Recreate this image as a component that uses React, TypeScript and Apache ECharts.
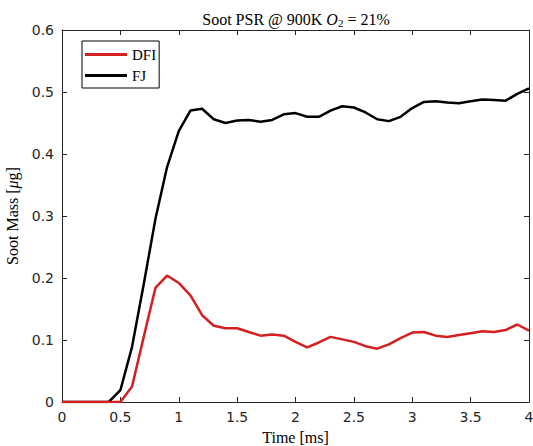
import React, { useEffect, useRef } from "react";
import * as echarts from "echarts";

const times = [0, 0.1, 0.2, 0.3, 0.4, 0.5, 0.6, 0.7, 0.8, 0.9, 1.0, 1.1, 1.2, 1.3, 1.4, 1.5, 1.6, 1.7, 1.8, 1.9, 2.0, 2.1, 2.2, 2.3, 2.4, 2.5, 2.6, 2.7, 2.8, 2.9, 3.0, 3.1, 3.2, 3.3, 3.4, 3.5, 3.6, 3.7, 3.8, 3.9, 4.0];
const dfi = [0, 0, 0, 0, 0, 0, 0.025, 0.105, 0.184, 0.204, 0.192, 0.172, 0.140, 0.123, 0.119, 0.119, 0.113, 0.107, 0.109, 0.107, 0.097, 0.088, 0.096, 0.105, 0.101, 0.097, 0.090, 0.086, 0.093, 0.103, 0.112, 0.113, 0.107, 0.105, 0.108, 0.111, 0.114, 0.113, 0.116, 0.125, 0.115];
const fj = [0, 0, 0, 0, 0, 0.019, 0.089, 0.19, 0.295, 0.379, 0.437, 0.470, 0.473, 0.456, 0.450, 0.454, 0.455, 0.452, 0.455, 0.464, 0.466, 0.460, 0.460, 0.470, 0.477, 0.475, 0.467, 0.456, 0.453, 0.460, 0.474, 0.484, 0.485, 0.483, 0.482, 0.485, 0.488, 0.487, 0.486, 0.497, 0.506];

const AX = "#262626";
const SERIF = "'Liberation Serif', 'DejaVu Serif', serif";
const SANS = "'DejaVu Sans', sans-serif";

export default function App() {
  const ref = useRef<HTMLDivElement>(null);
  useEffect(() => {
    const chart = echarts.init(ref.current!, null, { renderer: "svg" });
    const xCommon = {
      type: "value" as const,
      min: 0,
      max: 4,
      interval: 0.5,
      splitLine: { show: false },
      axisLine: { show: true, onZero: false, lineStyle: { color: AX, width: 1 } },
      axisTick: { show: true, inside: true, length: 5, lineStyle: { color: AX } },
    };
    const yCommon = {
      type: "value" as const,
      min: 0,
      max: 0.6,
      interval: 0.1,
      splitLine: { show: false },
      axisLine: { show: true, onZero: false, lineStyle: { color: AX, width: 1 } },
      axisTick: { show: true, inside: true, length: 5, lineStyle: { color: AX } },
    };
    chart.setOption({
      animation: false,
      backgroundColor: "#ffffff",
      title: {
        text: "Soot PSR @ 900K {i|O}{sub|2} = 21%",
        left: 291,
        top: 5,
        textAlign: "center",
        textStyle: {
          fontFamily: SERIF,
          fontSize: 16,
          fontWeight: "normal",
          color: "#000",
          rich: {
            i: { fontFamily: SERIF, fontSize: 16, fontStyle: "italic", color: "#000" },
            sub: { fontFamily: SERIF, fontSize: 11, color: "#000", verticalAlign: "bottom", padding: [7, 0, 0, 0] },
          },
        },
      },
      grid: { left: 62, right: 4, top: 30, bottom: 44, containLabel: false, outerBoundsMode: "none" },
      legend: {
        orient: "vertical",
        left: 82,
        top: 41,
        padding: [6, 3, 5, 3],
        itemGap: 6,
        itemWidth: 42,
        itemHeight: 3,
        icon: "rect",
        borderColor: "#000",
        borderWidth: 1,
        backgroundColor: "#fff",
        textStyle: { fontFamily: SERIF, fontSize: 15, color: "#000", lineHeight: 14 },
        data: ["DFI", "FJ"],
      },
      xAxis: [
        {
          ...xCommon,
          position: "bottom",
          name: "Time [ms]",
          nameLocation: "middle",
          nameGap: 27,
          nameTextStyle: { fontFamily: SERIF, fontSize: 16, color: "#000" },
          axisLabel: { show: true, fontFamily: SANS, fontSize: 14, color: AX, margin: 8 },
        },
        { ...xCommon, position: "top", axisLabel: { show: false } },
      ],
      yAxis: [
        {
          ...yCommon,
          position: "left",
          name: "Soot Mass [{i|μ}g]",
          nameLocation: "middle",
          nameGap: 34,
          nameTextStyle: {
            fontFamily: SERIF,
            fontSize: 16,
            color: "#000",
            rich: { i: { fontFamily: SERIF, fontSize: 16, fontStyle: "italic", color: "#000" } },
          },
          axisLabel: { show: true, fontFamily: SANS, fontSize: 14, color: AX, margin: 8 },
        },
        { ...yCommon, position: "right", axisLabel: { show: false } },
      ],
      series: [
        {
          name: "DFI",
          type: "line",
          symbol: "none",
          data: times.map((t, i) => [t, dfi[i]]),
          itemStyle: { color: "#d42020" },
          lineStyle: { color: "#d42020", width: 2.5 },
          z: 3,
        },
        {
          name: "FJ",
          type: "line",
          symbol: "none",
          data: times.map((t, i) => [t, fj[i]]),
          itemStyle: { color: "#000" },
          lineStyle: { color: "#000", width: 2.5 },
          z: 2,
        },
      ],
    });
    return () => chart.dispose();
  }, []);
  return <div ref={ref} style={{ position: "fixed", left: 0, top: 0, width: 533, height: 446 }} />;
}
